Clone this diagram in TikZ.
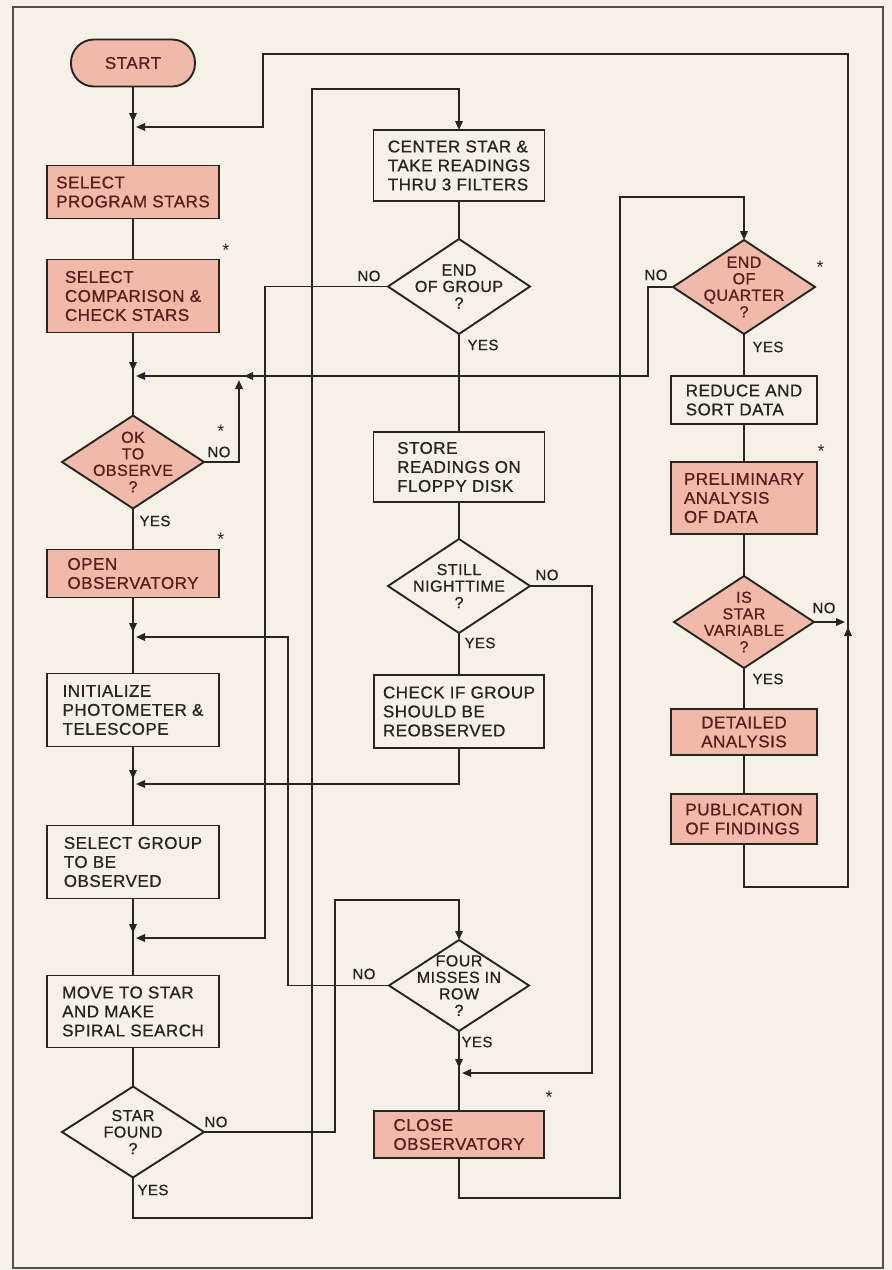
\documentclass[tikz,border=0pt]{standalone}
\usepackage{fontspec}
\usepackage{tikz}
\usetikzlibrary{positioning,arrows.meta,shapes.geometric}
\setmainfont{Liberation Sans}
\newfontfamily\chartfont[LetterSpace=3, FakeBold=0.8]{Liberation Sans}
\definecolor{paper}{HTML}{F5F1E6}
\definecolor{ink}{HTML}{26261F}
\definecolor{salmon}{HTML}{F0B9A9}
\definecolor{maroon}{HTML}{5A1C1C}

\begin{document}
\begin{tikzpicture}[
  x=1pt, y=-1pt,
  node distance=40pt,
  procbox/.style={draw=ink, line width=1.9pt, outer sep=0pt, align=left, minimum width=172pt, minimum height=72pt, inner sep=4pt, text=ink, font=\chartfont\fontsize{17}{19}\selectfont},
  keybox/.style={procbox, fill=salmon, text=maroon},
  decision/.style={diamond, draw=ink, line width=1.9pt, outer sep=0pt, minimum width=142pt, minimum height=93pt, inner sep=0pt},
  keydecision/.style={decision, fill=salmon},
  dtext/.style={align=center, text=ink, font=\chartfont\fontsize{16}{16.5}\selectfont},
  keydtext/.style={dtext, text=maroon},
  yn/.style={text=ink, inner sep=0pt, font=\chartfont\fontsize{15}{15}\selectfont},
  asterisk/.style={text=ink, inner sep=0pt, yshift=-3pt, font=\fontsize{18}{18}\selectfont},
  line/.style={draw=ink, line width=1.8pt},
  arr/.style={line, -{Triangle[length=9pt,width=7.5pt]}}
]
\fill[paper] (0,0) rectangle (892,1270);
\useasboundingbox (0,0) rectangle (892,1270);
\draw[ink!80, line width=1.5pt] (13,7) rectangle (883,1268);

% main column
\node[keybox, rounded corners=23pt, align=center, minimum width=124pt, minimum height=47pt] (start) at (133,63) {START};
\node[keybox, minimum height=53pt, below=79pt of start] (prog) {SELECT\\PROGRAM STARS};
\node[keybox, minimum height=73pt, below=41pt of prog] (comp) {SELECT\\COMPARISON \&\\CHECK STARS};
\node[keydecision, below=83pt of comp, label={[name=okt, keydtext]center:OK\\TO\\OBSERVE\\?}] (ok) {};
\node[keybox, minimum height=48pt, below=41pt of ok] (open) {OPEN\\OBSERVATORY};
\node[procbox, minimum height=73pt, below=76pt of open] (init) {INITIALIZE\\PHOTOMETER \&\\TELESCOPE};
\node[procbox, minimum height=73pt, below=79pt of init] (group) {SELECT GROUP\\TO BE\\OBSERVED};
\node[procbox, minimum height=72pt, below=77pt of group] (move) {MOVE TO STAR\\AND MAKE\\SPIRAL SEARCH};
\node[decision, minimum height=91pt, below=39pt of move, label={[name=foundt, dtext]center:STAR\\FOUND\\?}] (found) {};

% middle column
\node[procbox, minimum width=171pt, minimum height=71pt] (center) at (459,165.5) {CENTER STAR \&\\TAKE READINGS\\THRU 3 FILTERS};
\node[decision, minimum height=95pt, below=38pt of center, label={[name=endgrpt, dtext]center:END\\OF GROUP\\?}] (endgrp) {};
\node[procbox, minimum width=171pt, minimum height=70pt, below=98pt of endgrp] (store) {STORE\\READINGS ON\\FLOPPY DISK};
\node[decision, minimum height=94pt, below=37pt of store, label={[name=nightt, dtext]center:STILL\\NIGHTTIME\\?}] (night) {};
\node[procbox, minimum width=170pt, minimum height=73pt, below=42pt of night] (check) {CHECK IF GROUP\\SHOULD BE\\REOBSERVED};
\node[decision, minimum width=140pt, minimum height=91pt, below=192pt of check, label={[name=fourt, dtext]center:FOUR\\MISSES IN\\ROW\\?}] (four) {};
\node[keybox, minimum width=170pt, minimum height=47pt, below=80pt of four] (close) {CLOSE\\OBSERVATORY};

% right column
\node[keydecision, minimum height=94pt, label={[name=quartert, keydtext]center:END\\OF\\QUARTER\\?}] (quarter) at (744,287) {};
\node[procbox, minimum width=146pt, minimum height=48pt, below=42pt of quarter] (reduce) {REDUCE AND\\SORT DATA};
\node[keybox, minimum width=146pt, minimum height=72pt, below=38pt of reduce] (prelim) {PRELIMINARY\\ANALYSIS\\OF DATA};
\node[keydecision, minimum width=140pt, minimum height=92pt, below=42pt of prelim, label={[name=variablet, keydtext]center:IS\\STAR\\VARIABLE\\?}] (variable) {};
\node[keybox, align=center, minimum width=146pt, minimum height=46pt, below=41pt of variable] (detail) {DETAILED\\ANALYSIS};
\node[keybox, minimum width=146pt, minimum height=50pt, below=39pt of detail] (pub) {PUBLICATION\\OF FINDINGS};

% junctions and corners
\coordinate (j1) at (133,127);
\coordinate (j2) at (133,376);
\coordinate (j3) at (133,637);
\coordinate (j4) at (133,784);
\coordinate (j5) at (133,938);
\coordinate (j6) at (459,1073);
\coordinate (j7) at (239,376);
\coordinate (j8) at (848,622);
\coordinate (c7) at (648,376);
\coordinate (c8) at (848,887);

% yes / no
\node[yn] (okno) at (219,452) {NO};
\node[yn] (okyes) at (155,521) {YES};
\node[yn] (endno) at (369,276) {NO};
\node[yn] (endyes) at (483,345) {YES};
\node[yn] (nightno) at (547,575) {NO};
\node[yn] (nightyes) at (480,643) {YES};
\node[yn] (foundno) at (216,1122) {NO};
\node[yn] (foundyes) at (153,1190) {YES};
\node[yn] (fourno) at (364,974) {NO};
\node[yn] (fouryes) at (477,1042) {YES};
\node[yn] (quarterno) at (656,275) {NO};
\node[yn] (quarteryes) at (768,347) {YES};
\node[yn] (variableno) at (824,608) {NO};
\node[yn] (variableyes) at (768,679) {YES};

% asterisks
\node[asterisk] (astcomp) at (226,247) {*};
\node[asterisk] (astok) at (221,428) {*};
\node[asterisk] (astopen) at (221,536) {*};
\node[asterisk] (astclose) at (549,1094) {*};
\node[asterisk] (astquarter) at (820,264) {*};
\node[asterisk] (astprelim) at (821,448) {*};

% straight runs
\draw[line] (start) -- (prog);
\draw[arr, shorten >=5pt] (start) -- (j1);
\draw[line] (prog) -- (comp);
\draw[line] (comp) -- (ok);
\draw[arr, shorten >=5pt] (comp) -- (j2);
\draw[line] (ok) -- (open);
\draw[line] (open) -- (init);
\draw[arr, shorten >=5pt] (open) -- (j3);
\draw[line] (init) -- (group);
\draw[arr, shorten >=5pt] (init) -- (j4);
\draw[line] (group) -- (move);
\draw[arr, shorten >=5pt] (group) -- (j5);
\draw[line] (move) -- (found);
\draw[line] (center) -- (endgrp);
\draw[line] (endgrp) -- (store);
\draw[line] (store) -- (night);
\draw[line] (night) -- (check);
\draw[line] (four) -- (close);
\draw[arr, shorten >=5pt] (four) -- (j6);
\draw[line] (quarter) -- (reduce);
\draw[line] (reduce) -- (prelim);
\draw[line] (prelim) -- (variable);
\draw[line] (variable) -- (detail);
\draw[line] (detail) -- (pub);

% loops
\draw[arr] (found.south) |- (312,1218) -- (312,89) -| (center.north);
\draw[arr, shorten >=3pt] (endgrp.west) -| (265,938) -- (j5);
\draw[arr, shorten >=3pt] (check.south) |- (j4);
\draw[arr, shorten >=3pt] (night.east) -| (592,1073) -- (j6);
\draw[arr] (found.east) -| (335,900) -| (four.north);
\draw[arr, shorten >=3pt] (four.west) -| (288,637) -- (j3);
\draw[arr] (close.south) |- (620,1198) -- (620,197) -| (quarter.north);
\draw[arr, shorten >=3pt] (quarter.west) -| (c7) -- (j2);
\draw[arr, shorten >=5pt] (c7) -- (j7);
\draw[arr, shorten >=4pt] (ok.east) -| (j7);
\draw[arr, shorten >=3pt] (pub.south) |- (c8) -- (j8) |- (263,54) -- (263,127) -- (j1);
\draw[arr, shorten >=5pt] (c8) -- (j8);
\draw[arr, shorten >=3pt] (variable.east) -- (j8);
\end{tikzpicture}
\end{document}
